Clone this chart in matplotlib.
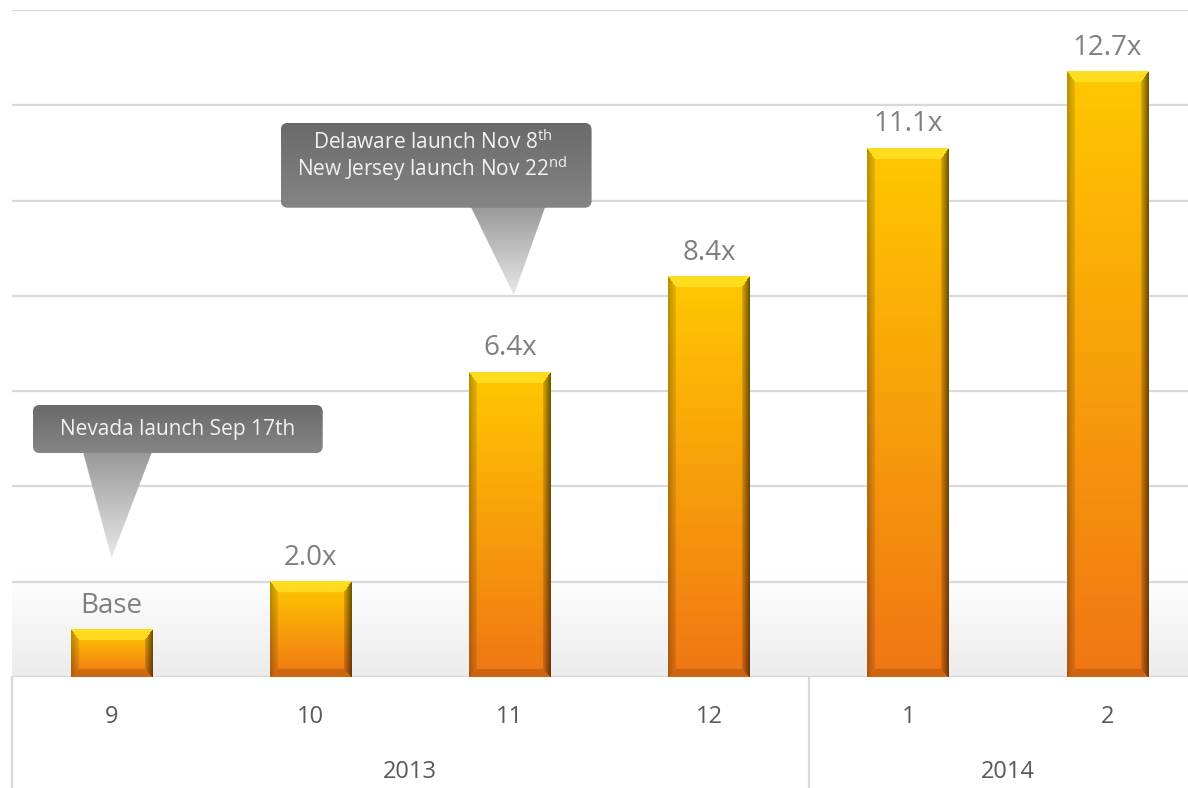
import numpy as np
import matplotlib
matplotlib.use("Agg")
import matplotlib.pyplot as plt
from matplotlib.patches import FancyBboxPatch, Polygon
from matplotlib.colors import LinearSegmentedColormap

plt.rcParams['font.family'] = ['Open Sans', 'DejaVu Sans']
plt.rcParams['mathtext.fontset'] = 'custom'
plt.rcParams['mathtext.rm'] = 'Open Sans'

# data
months = ['9', '10', '11', '12', '1', '2']
years = ['2013', '2014']
year_first = [0, 4]
year_last = [3, 5]
growth = [1.0, 2.0, 6.4, 8.4, 11.1, 12.7]
labels = ['Base', '2.0x', '6.4x', '8.4x', '11.1x', '12.7x']

W, H = 1188, 788
fig = plt.figure(figsize=(W / 100, H / 100), dpi=100)
ax = fig.add_axes([12 / W, 111 / H, 1195 / W, 667 / H])
ymax = 14
pxx = 1195 / 6.0      # pixels per x unit
pxy = 667 / ymax      # pixels per y unit


def bar_image(hpx, wpx):
    yy, xx = np.mgrid[0:hpx, 0:wpx] + 0.5
    t = (yy / hpx)[..., None]
    top = np.array([255, 200, 0]) / 255
    bot = np.array([240, 118, 20]) / 255
    img = top + (bot - top) * t
    dt, db, dl, dr = yy, hpx - yy, xx, wpx - xx
    bt, bs = 11.0, 8.0
    m_top = (dt < bt) & (dt / bt <= dl / bs) & (dt / bt <= dr / bs)
    m_left = (dl < bs) & (dl / bs < dt / bt) & (dl <= dr) & (dl / bs <= db / bs)
    m_right = (dr < bs) & (dr / bs < dt / bt) & (dr < dl) & (dr / bs <= db / bs)
    m_bot = (db < bs) & ~m_top & ~m_left & ~m_right
    lt = np.array([255, 228, 40]) / 255
    img[m_top] = lt * 0.75 + img[m_top] * 0.25
    f = (dl / bs)[..., None]
    img = np.where(m_left[..., None], img * (0.72 + 0.2 * f), img)
    f = (dr / bs)[..., None]
    img = np.where(m_right[..., None], img * (0.42 + 0.45 * f), img)
    img = np.where(m_bot[..., None], img * 0.85, img)
    return np.clip(img, 0, 1)


# background shade near the baseline
shade = np.linspace(1.0, 0.925, 100).reshape(-1, 1)
ax.imshow(np.dstack([shade] * 3), extent=(-0.5, 5.5, 0, 2.2), aspect='auto',
          zorder=0, interpolation='bilinear')

for y in range(0, ymax + 1, 2):
    ax.axhline(y, color='#d9d9d9', lw=1.6, zorder=1)

bw = 0.41
for i, v in enumerate(growth):
    img = bar_image(int(round(v * pxy)), int(round(bw * pxx)))
    ax.imshow(img, extent=(i - bw / 2, i + bw / 2, 0, v), aspect='auto',
              zorder=3, interpolation='bilinear')
    ax.text(i, v + 0.5, labels[i], ha='center', va='center', fontsize=20,
            color='#7f7f7f', zorder=4)


def gradient_fill(patch, c_top, c_bot, ext):
    ax.add_patch(patch)
    cmap = LinearSegmentedColormap.from_list('g', [c_top, c_bot])
    im = ax.imshow(np.linspace(0, 1, 256).reshape(-1, 1), cmap=cmap,
                   extent=ext, aspect='auto', zorder=patch.get_zorder(),
                   interpolation='bilinear')
    im.set_clip_path(patch)


def callout(x0, x1, y0, y1, tri_l, tri_r, tip):
    tri = Polygon([(tri_l, y0 + 0.05), (tri_r, y0 + 0.05), tip], closed=True,
                  facecolor='none', edgecolor='none', zorder=5)
    gradient_fill(tri, '#9a9a9a', '#e8e8e8', (tri_l, tri_r, tip[1], y0))
    box = FancyBboxPatch((x0, y0), x1 - x0, y1 - y0,
                         boxstyle='round,pad=0,rounding_size=0.035',
                         mutation_aspect=pxx / pxy, facecolor='none',
                         edgecolor='none', zorder=6)
    gradient_fill(box, '#6a6a6a', '#858585', (x0, x1, y0, y1))


# callout boxes
callout(-0.395, 1.06, 4.70, 5.71, -0.145, 0.205, (0.0, 2.5))
ax.text(0.333, 5.19, 'Nevada launch Sep 17th', ha='center', va='center',
        fontsize=15, color='#f2f2f2', zorder=7)
callout(0.85, 2.41, 9.85, 11.63, 1.80, 2.18, (2.02, 8.02))
ax.text(1.61, 11.22, r'Delaware launch Nov 8$^{\mathrm{th}}$', ha='center',
        va='center', fontsize=15, color='#f2f2f2', zorder=7)
ax.text(1.61, 10.66, r'New Jersey launch Nov 22$^{\mathrm{nd}}$', ha='center',
        va='center', fontsize=15, color='#f2f2f2', zorder=7)

# two level category axis
tr = ax.get_xaxis_transform()
for i, m in enumerate(months):
    ax.text(i, -0.0595, m, transform=tr, ha='center', va='center',
            fontsize=17, color='#595959')
for yr, a, b in zip(years, year_first, year_last):
    ax.text((a + b) / 2, -0.143, yr, transform=tr, ha='center', va='center',
            fontsize=17, color='#595959')
for xb in [-0.5, 3.5]:
    ax.plot([xb, xb], [0, -0.17], transform=tr, color='#d9d9d9', lw=1.6,
            clip_on=False)

ax.set_xlim(-0.5, 5.5)
ax.set_ylim(0, ymax)
ax.axis('off')

fig.savefig('out.png', dpi=100)
